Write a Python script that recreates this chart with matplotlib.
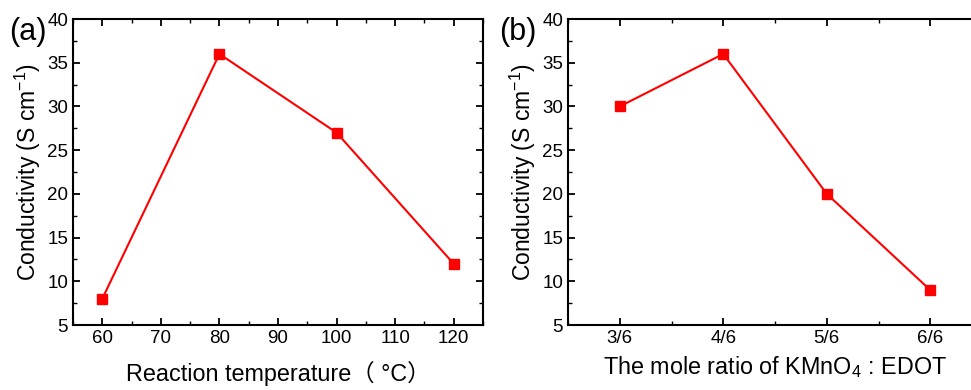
import matplotlib
matplotlib.use("Agg")
import matplotlib.pyplot as plt
from matplotlib.ticker import MultipleLocator

plt.rcParams['font.family'] = ['Liberation Sans', 'Noto Sans CJK SC', 'DejaVu Sans']
plt.rcParams['mathtext.fontset'] = 'custom'
plt.rcParams['mathtext.rm'] = 'Liberation Sans'

# (a) conductivity vs reaction temperature
temperatura = [60, 80, 100, 120]
cond_temp = [8, 36, 27, 12]

# (b) conductivity vs KMnO4 : EDOT mole ratio
razoes = ['3/6', '4/6', '5/6', '6/6']
cond_razao = [30, 36, 20, 9]

W, H = 971, 390
fig = plt.figure(figsize=(W / 100, H / 100), dpi=100)

ax1 = fig.add_axes([73 / W, (H - 325) / H, (483 - 73) / W, (325 - 19) / H])
ax2 = fig.add_axes([568 / W, (H - 325) / H, (982 - 568) / W, (325 - 19) / H])


def estilo(ax):
    ax.set_ylim(5, 40)
    ax.yaxis.set_major_locator(MultipleLocator(5))
    ax.yaxis.set_minor_locator(MultipleLocator(2.5))
    ax.tick_params(which='both', direction='in', top=True, right=True, labelsize=13.5)
    ax.tick_params(which='major', length=5, width=1.3)
    ax.tick_params(which='minor', length=3, width=1.0)
    for s in ax.spines.values():
        s.set_linewidth(1.5)
    ax.set_ylabel('Conductivity (S cm$^{-1}$)', fontsize=16.5, labelpad=3)


ax1.plot(temperatura, cond_temp, color='red', lw=1.5, marker='s', ms=7)
ax1.set_xlim(55, 125)
ax1.xaxis.set_major_locator(MultipleLocator(10))
ax1.xaxis.set_minor_locator(MultipleLocator(5))
estilo(ax1)
ax1.set_xlabel('Reaction temperature（ °C）', fontsize=16.8, labelpad=10)

pos = list(range(1, len(razoes) + 1))
ax2.plot(pos, cond_razao, color='red', lw=1.5, marker='s', ms=7)
ax2.set_xlim(0.5, 4.5)
ax2.set_xticks(pos)
ax2.set_xticklabels(razoes)
ax2.xaxis.set_minor_locator(MultipleLocator(0.5))
estilo(ax2)
ax2.set_xlabel('The mole ratio of KMnO$_4$ : EDOT', fontsize=16.8, labelpad=5)

fig.text(9 / W, (H - 40) / H, '(a)', fontsize=22)
fig.text(499 / W, (H - 40) / H, '(b)', fontsize=22)

fig.savefig('out.png', dpi=100)
